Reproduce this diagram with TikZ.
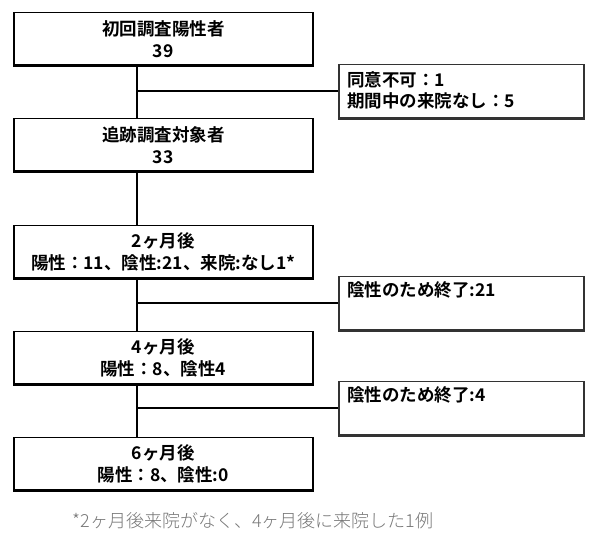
\documentclass[tikz,border=0pt]{standalone}
\usepackage{fontspec}
\newfontfamily\jp{Noto Sans CJK JP Bold}
\newfontfamily\jpl{Noto Sans CJK JP Light}
\definecolor{sidegray}{HTML}{333333}
\definecolor{notegray}{HTML}{777777}
\tikzset{
  mainbox/.style={draw=black, line width=1.5pt, minimum width=299pt, minimum height=52pt,
    anchor=north west, inner sep=0pt, align=center,
    font={\jp\fontsize{17.5}{22}\selectfont}},
  sidebox/.style={draw=sidegray, line width=1.5pt, minimum width=245pt, minimum height=53pt,
    anchor=north west, inner sep=0pt},
  sidetext/.style={anchor=west, inner sep=0pt, align=left,
    font={\jp\fontsize{17.5}{21}\selectfont}},
  conn/.style={draw=black, line width=2.2pt},
  bottomedge/.style={line width=2.4pt},
  note/.style={inner sep=0pt, text=notegray, font={\jpl\fontsize{18}{20}\selectfont}}
}
\begin{document}
\begin{tikzpicture}[x=1pt,y=-1pt]
\useasboundingbox[fill=white] (0,0) rectangle (600,534);
% main boxes
\node[mainbox] (b1) at (13,12)  {初回調査陽性者\\39};
\node[mainbox] (b2) at (13,118) {追跡調査対象者\\33};
\node[mainbox] (b3) at (13,225) {2ヶ月後\\陽性：11、陰性:21、来院:なし1*};
\node[mainbox] (b4) at (13,331) {4ヶ月後\\陽性：8、陰性4};
\node[mainbox] (b5) at (13,437) {6ヶ月後\\陽性：8、陰性:0};
% side boxes
\node[sidebox] (s1) at (338,64)  {};
\node[sidebox] (s2) at (338,276) {};
\node[sidebox] (s3) at (338,381) {};
\node[sidetext] (s1t) at (347,90.5) {同意不可：1\\期間中の来院なし：5};
\node[sidetext] (s2t) at (347,290) {陰性のため終了:21};
\node[sidetext] (s3t) at (347,395) {陰性のため終了:4};
% thicker bottom edges
\foreach \n in {b1,b2,b3,b4,b5}
  \draw[bottomedge, black] (\n.south west) -- (\n.south east);
\foreach \n in {s1,s2,s3}
  \draw[bottomedge, sidegray] (\n.south west) -- (\n.south east);
% spine
\coordinate (spine) at (137,0);
\draw[conn] (b1.south -| spine) -- (b2.north -| spine);
\draw[conn] (b2.south -| spine) -- (b3.north -| spine);
\draw[conn] (b3.south -| spine) -- (b4.north -| spine);
\draw[conn] (b4.south -| spine) -- (b5.north -| spine);
% branches
\draw[conn] (s1.west -| spine) -- (s1.west);
\draw[conn] (s2.west -| spine) -- (s2.west);
\draw[conn] (s3.west -| spine) -- (s3.west);
% footnote
\node[note] (fn) at (253,521) {*2ヶ月後来院がなく、4ヶ月後に来院した1例};
\end{tikzpicture}
\end{document}
